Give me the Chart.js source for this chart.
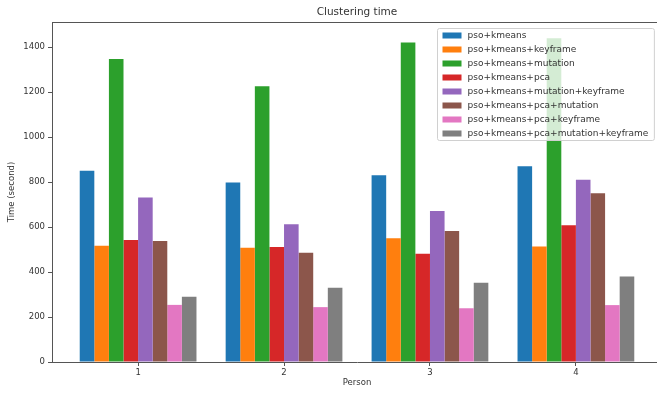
<!DOCTYPE html>
<html>
<head>
<meta charset="utf-8">
<title>Clustering time</title>
<script src="https://cdn.jsdelivr.net/npm/chart.js@4.4.1/dist/chart.umd.min.js"></script>
<style>
  html, body { margin: 0; padding: 0; background: #fff; overflow: hidden; }
  canvas { display: block; }
</style>
</head>
<body>
<canvas id="chart" width="662" height="394"></canvas>
<script>
// values
const persons = [1, 2, 3, 4];
const yTicks = [0, 200, 400, 600, 800, 1000, 1200, 1400];

const methods = [
    "pso+kmeans",
    "pso+kmeans+keyframe",
    "pso+kmeans+mutation",
    "pso+kmeans+pca",
    "pso+kmeans+mutation+keyframe",
    "pso+kmeans+pca+mutation",
    "pso+kmeans+pca+keyframe",
    "pso+kmeans+pca+mutation+keyframe"
];

const psoKmeans = [851, 798, 830, 870];
const psoKmeansKeyframe = [517, 508, 550, 514];
const psoKmeansMutation = [1347, 1226, 1421, 1440];
const psoKmeansPca = [543, 511, 481, 608];
const psoKmeansMutationKeyframe = [732, 613, 672, 810];
const psoKmeansPcaMutation = [538, 486, 583, 750];
const psoKmeansPcaKeyframe = [254, 244, 239, 253];
const psoKmeansPcaMutationKeyframe = [290, 330, 352, 380];

const series = [
    psoKmeans, psoKmeansKeyframe, psoKmeansMutation, psoKmeansPca,
    psoKmeansMutationKeyframe, psoKmeansPcaMutation, psoKmeansPcaKeyframe,
    psoKmeansPcaMutationKeyframe
];

const colors = ["#1f77b4", "#ff7f0e", "#2ca02c", "#d62728",
                "#9467bd", "#8c564b", "#e377c2", "#7f7f7f"];

const FONT = '"DejaVu Sans", sans-serif';
const TEXT = "#333";
const SPINE = "#555";

// matplotlib style legend, drawn over the bars with some transparency
const boxLegend = {
    id: "boxLegend",
    afterDatasetsDraw(chart) {
        const { ctx, chartArea } = chart;
        const sets = chart.data.datasets;
        ctx.save();

        // top + right spines
        ctx.strokeStyle = SPINE;
        ctx.lineWidth = 1;
        ctx.beginPath();
        ctx.moveTo(chartArea.left, Math.round(chartArea.top) + 0.5);
        ctx.lineTo(chartArea.right, Math.round(chartArea.top) + 0.5);
        ctx.lineTo(chartArea.right, chartArea.bottom);
        ctx.stroke();

        ctx.font = "9px " + FONT;
        const textW = Math.max(...sets.map(d => ctx.measureText(d.label).width));
        const rowH = 14, padX = 5, handleW = 19, gap = 6;
        const w = padX + handleW + gap + textW + padX + 1;
        const h = rowH * sets.length;
        const x = Math.round(chartArea.right - 8 - w) + 0.5;
        const y = Math.round(chartArea.top + 6) + 0.5;

        ctx.beginPath();
        ctx.roundRect(x, y, w, h, 2);
        ctx.fillStyle = "rgba(255,255,255,0.8)";
        ctx.fill();
        ctx.strokeStyle = "#d0d0d0";
        ctx.stroke();

        ctx.textBaseline = "middle";
        sets.forEach((d, i) => {
            const cy = y + rowH * (i + 0.5);
            ctx.fillStyle = d.backgroundColor;
            ctx.fillRect(x + padX, cy - 3, handleW, 6);
            ctx.fillStyle = TEXT;
            ctx.fillText(d.label, x + padX + handleW + gap, cy);
        });
        ctx.restore();
    }
};

const ctx = document.getElementById("chart").getContext("2d");

new Chart(ctx, {
    type: "bar",
    data: {
        datasets: methods.map((name, i) => ({
            label: name,
            data: persons.map((p, j) => ({ x: p, y: series[i][j] })),
            backgroundColor: colors[i],
            borderWidth: 0,
            categoryPercentage: 0.8,
            barPercentage: 1.0
        }))
    },
    options: {
        responsive: false,
        animation: false,
        devicePixelRatio: 1,
        layout: { padding: 0 },
        plugins: {
            legend: { display: false },
            tooltip: { enabled: false },
            title: {
                display: true,
                text: "Clustering time",
                fullSize: false,
                color: TEXT,
                font: { family: FONT, size: 10.5, weight: "normal" },
                padding: { top: 6, bottom: 3.4 }
            }
        },
        scales: {
            x: {
                type: "linear",
                min: 0.41,
                max: 4.59,
                offset: false,
                afterBuildTicks(scale) {
                    scale.ticks = persons.map(v => ({ value: v }));
                },
                afterFit(scale) { scale.height = 32; },
                grid: {
                    offset: false,
                    drawOnChartArea: false,
                    drawTicks: true,
                    tickLength: 4,
                    tickColor: SPINE
                },
                border: { display: true, color: SPINE },
                ticks: {
                    color: TEXT,
                    padding: 2,
                    font: { family: FONT, size: 8.5 },
                    callback: v => String(v)
                },
                title: {
                    display: true,
                    text: "Person",
                    color: TEXT,
                    font: { family: FONT, size: 8.5 },
                    padding: { top: 0, bottom: 6 }
                }
            },
            y: {
                min: 0,
                max: 1512,
                afterBuildTicks(scale) {
                    scale.ticks = yTicks.map(v => ({ value: v }));
                },
                afterFit(scale) { scale.width = 52; },
                grid: {
                    drawOnChartArea: false,
                    drawTicks: true,
                    tickLength: 4,
                    tickColor: SPINE
                },
                border: { display: true, color: SPINE },
                ticks: {
                    color: TEXT,
                    padding: 3,
                    font: { family: FONT, size: 8.5 },
                    callback: v => String(v)
                },
                title: {
                    display: true,
                    text: "Time (second)",
                    color: TEXT,
                    font: { family: FONT, size: 8.5 },
                    padding: { top: 7, bottom: 0 }
                }
            }
        }
    },
    plugins: [boxLegend]
});
</script>
</body>
</html>
